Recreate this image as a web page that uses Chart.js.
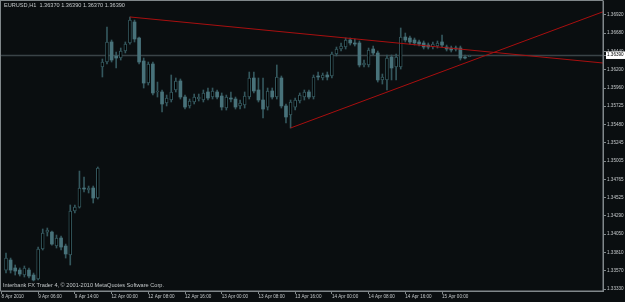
<!DOCTYPE html>
<html>
<head>
<meta charset="utf-8">
<title>EURUSD,H1</title>
<script src="https://cdn.jsdelivr.net/npm/chart.js@4.4.1/dist/chart.umd.min.js"></script>
<style>
  html, body { margin: 0; padding: 0; background: #0a0e10; }
  canvas { display: block; }
</style>
</head>
<body>
<canvas id="chart" width="625" height="302"></canvas>
<script>
// ================================================================
// EURUSD H1 — MT4 style candle chart (Chart.js floating bars)
// ================================================================

// ── Data ─────────────────────────────────────────────────────────
const SYMBOL = 'EURUSD,H1';
const FOOTER = 'Interbank FX Trader 4, \u00A9 2001-2010 MetaQuotes Software Corp.';
const BID = 1.36390;

const OPEN = [
  1.33580, 1.33711, 1.33607, 1.33580, 1.33515, 1.33580, 1.33515, 1.33463, 1.33855, 1.34077,
  1.34077, 1.33894, 1.33999, 1.33894, 1.33777, 1.34352, 1.34404, 1.34653, 1.34627, 1.34653,
  1.34522, 1.36236, 1.36301, 1.36563, 1.36380, 1.36353, 1.36445, 1.36550, 1.36824, 1.36615,
  1.36314, 1.36026, 1.36275, 1.35909, 1.35909, 1.35765, 1.35804, 1.35935, 1.36053, 1.35843,
  1.35726, 1.35778, 1.35817, 1.35804, 1.35909, 1.35843, 1.35909, 1.35856, 1.35699, 1.35830,
  1.35817, 1.35726, 1.35739, 1.35843, 1.36092, 1.35935, 1.35804, 1.35712, 1.35922, 1.35843,
  1.36092, 1.35726, 1.35608, 1.35712, 1.35791, 1.35843, 1.35909, 1.35843, 1.36118, 1.36092,
  1.36131, 1.36118, 1.36406, 1.36471, 1.36497, 1.36589, 1.36550, 1.36550, 1.36262, 1.36262,
  1.36471, 1.36419, 1.36066, 1.36066, 1.36366, 1.36236, 1.36236, 1.36628, 1.36615, 1.36589,
  1.36563, 1.36550, 1.36523, 1.36497, 1.36510, 1.36563, 1.36497, 1.36484, 1.36484, 1.36484,
  1.36366, 1.36370,
];
const HIGH = [
  1.33803, 1.33737, 1.33646, 1.33607, 1.33633, 1.33607, 1.33541, 1.33881, 1.34117, 1.34130,
  1.34091, 1.34038, 1.34025, 1.33920, 1.34431, 1.34431, 1.34875, 1.34797, 1.34679, 1.34679,
  1.34928, 1.36340, 1.36759, 1.36589, 1.36432, 1.36484, 1.36563, 1.36890, 1.36850, 1.36628,
  1.36353, 1.36301, 1.36301, 1.36039, 1.35935, 1.35869, 1.36131, 1.36092, 1.36079, 1.35869,
  1.35817, 1.35882, 1.35882, 1.35935, 1.35961, 1.35961, 1.35935, 1.35896, 1.35869, 1.35909,
  1.35843, 1.35804, 1.35909, 1.36170, 1.36170, 1.36092, 1.36092, 1.35961, 1.35961, 1.36262,
  1.36118, 1.35752, 1.35804, 1.35830, 1.35896, 1.35935, 1.35935, 1.36131, 1.36170, 1.36157,
  1.36170, 1.36432, 1.36497, 1.36550, 1.36615, 1.36615, 1.36602, 1.36576, 1.36327, 1.36484,
  1.36510, 1.36445, 1.36144, 1.36393, 1.36393, 1.36406, 1.36746, 1.36680, 1.36641, 1.36615,
  1.36589, 1.36576, 1.36550, 1.36563, 1.36576, 1.36654, 1.36523, 1.36510, 1.36510, 1.36510,
  1.36393, 1.36390,
];
const LOW = [
  1.33541, 1.33541, 1.33515, 1.33502, 1.33489, 1.33476, 1.33437, 1.33450, 1.33842, 1.34025,
  1.33907, 1.33868, 1.33842, 1.33737, 1.33646, 1.34326, 1.34391, 1.34601, 1.34588, 1.34457,
  1.34509, 1.36105, 1.36275, 1.36301, 1.36223, 1.36327, 1.36419, 1.36536, 1.36563, 1.36275,
  1.35961, 1.36000, 1.35869, 1.35843, 1.35647, 1.35726, 1.35778, 1.35909, 1.35817, 1.35686,
  1.35699, 1.35752, 1.35791, 1.35778, 1.35804, 1.35817, 1.35817, 1.35673, 1.35673, 1.35778,
  1.35686, 1.35686, 1.35699, 1.35817, 1.35896, 1.35778, 1.35569, 1.35673, 1.35817, 1.35817,
  1.35699, 1.35503, 1.35438, 1.35673, 1.35765, 1.35804, 1.35817, 1.35817, 1.36066, 1.36066,
  1.36066, 1.36092, 1.36380, 1.36445, 1.36471, 1.36523, 1.36510, 1.36236, 1.36236, 1.36236,
  1.36393, 1.36039, 1.36013, 1.35935, 1.36066, 1.36066, 1.36209, 1.36563, 1.36536, 1.36523,
  1.36510, 1.36471, 1.36471, 1.36471, 1.36484, 1.36497, 1.36445, 1.36432, 1.36445, 1.36327,
  1.36340, 1.36370,
];
const CLOSE = [
  1.33737, 1.33580, 1.33567, 1.33528, 1.33607, 1.33502, 1.33450, 1.33855, 1.34064, 1.34104,
  1.33920, 1.33999, 1.33881, 1.33790, 1.34352, 1.34404, 1.34653, 1.34640, 1.34653, 1.34522,
  1.34915, 1.36301, 1.36563, 1.36327, 1.36353, 1.36445, 1.36536, 1.36850, 1.36602, 1.36301,
  1.36026, 1.36275, 1.35896, 1.35922, 1.35752, 1.35830, 1.35909, 1.36053, 1.35843, 1.35712,
  1.35791, 1.35843, 1.35843, 1.35896, 1.35830, 1.35922, 1.35843, 1.35712, 1.35843, 1.35817,
  1.35712, 1.35765, 1.35856, 1.36092, 1.35922, 1.35804, 1.35686, 1.35922, 1.35843, 1.36105,
  1.35726, 1.35582, 1.35778, 1.35804, 1.35869, 1.35909, 1.35843, 1.36105, 1.36105, 1.36131,
  1.36105, 1.36406, 1.36471, 1.36510, 1.36589, 1.36550, 1.36536, 1.36262, 1.36288, 1.36458,
  1.36419, 1.36066, 1.36105, 1.36353, 1.36223, 1.36366, 1.36628, 1.36589, 1.36563, 1.36550,
  1.36536, 1.36497, 1.36497, 1.36536, 1.36550, 1.36523, 1.36471, 1.36458, 1.36471, 1.36353,
  1.36353, 1.36390,
];

// time axis: bar index of each label and its text
const TICK_BARS = [-1, 7, 15, 23, 31, 39, 47, 55, 63, 71, 79, 87, 95];
const TICK_TEXT = [
  '8 Apr 2010', '9 Apr 06:00', '9 Apr 14:00', '12 Apr 00:00', '12 Apr 08:00',
  '12 Apr 16:00', '13 Apr 00:00', '13 Apr 08:00', '13 Apr 16:00', '14 Apr 00:00',
  '14 Apr 08:00', '14 Apr 16:00', '15 Apr 00:00',
];

// price axis labels
const PRICE_TICKS = [
  1.36920, 1.36680, 1.36440, 1.36200, 1.35960, 1.35725, 1.35480, 1.35245,
  1.35005, 1.34765, 1.34525, 1.34290, 1.34050, 1.33810, 1.33570, 1.33330,
];

// trend lines (rays): [bar, price] -> [bar, price]
const TREND_A = [[27, 1.36890], [140, 1.36230]];
const TREND_B = [[62, 1.35438], [140, 1.37180]];

// visible window
const X_MIN = -1.09;
const X_MAX = 130.07;
const Y_MIN = 1.33306;
const Y_MAX = 1.37099;

// ── Design tokens ────────────────────────────────────────────────
const BG = '#0a0e10';
const FRAME = '#80878a';
const TEXT = '#c4c8ca';
const WICK = '#34575d';
const BEAR = '#48727a';
const TREND = '#a80f0f';
const BID_LINE = '#3a4347';
const FONT = 'Liberation Sans, Arial, sans-serif';

// ── Datasets ─────────────────────────────────────────────────────
const idx = OPEN.map((_, i) => i);
const wicks = idx.map(i => ({ x: i, y: [LOW[i], HIGH[i]] }));
const bull = idx.filter(i => CLOSE[i] >= OPEN[i]).map(i => ({ x: i, y: [OPEN[i], CLOSE[i]] }));
const bear = idx.filter(i => CLOSE[i] < OPEN[i]).map(i => ({ x: i, y: [OPEN[i], CLOSE[i]] }));
const toPts = seg => seg.map(p => ({ x: p[0], y: p[1] }));

const last = OPEN.length - 1;
const HEADER = SYMBOL + '  ' + [OPEN[last], HIGH[last], LOW[last], CLOSE[last]].map(v => v.toFixed(5)).join(' ');

// ── Plugin: background, bid line, frame, captions ────────────────
const mt4Frame = {
  id: 'mt4Frame',
  beforeDraw(chart) {
    const c = chart.ctx;
    c.save();
    c.fillStyle = BG;
    c.fillRect(0, 0, chart.width, chart.height);
    c.restore();
  },
  beforeDatasetsDraw(chart) {
    const { ctx: c, chartArea: a, scales } = chart;
    const y = Math.round(scales.y.getPixelForValue(BID)) + 0.5;
    c.save();
    c.strokeStyle = BID_LINE;
    c.lineWidth = 1.5;
    c.beginPath();
    c.moveTo(a.left, y);
    c.lineTo(a.right, y);
    c.stroke();
    c.restore();
  },
  afterDraw(chart) {
    const { ctx: c, chartArea: a } = chart;
    c.save();
    c.strokeStyle = FRAME;
    c.lineWidth = 1;
    c.strokeRect(a.left - 0.5, a.top - 0.5, a.right - a.left + 0.5, a.bottom - a.top + 0.5);
    c.fillStyle = TEXT;
    c.textBaseline = 'top';
    c.font = '5.6px ' + FONT;
    c.fillText(HEADER, 4, 3);
    c.fillText(FOOTER, 3, 283);
    c.restore();
  },
};

// ── Chart ────────────────────────────────────────────────────────
Chart.defaults.font.family = FONT;

new Chart(document.getElementById('chart'), {
  type: 'bar',
  data: {
    datasets: [
      { type: 'line', data: toPts(TREND_A), borderColor: TREND, borderWidth: 1, pointRadius: 0, order: 0 },
      { type: 'line', data: toPts(TREND_B), borderColor: TREND, borderWidth: 1, pointRadius: 0, order: 0 },
      {
        data: bull, backgroundColor: '#000000', borderColor: WICK, borderWidth: 1,
        borderSkipped: false, barThickness: 3, minBarLength: 1, grouped: false, order: 1,
      },
      {
        data: bear, backgroundColor: BEAR, borderColor: BEAR, borderWidth: 0,
        borderSkipped: false, barThickness: 3, minBarLength: 1, grouped: false, order: 1,
      },
      { data: wicks, backgroundColor: WICK, barThickness: 1, grouped: false, order: 2 },
    ],
  },
  options: {
    responsive: false,
    animation: false,
    events: [],
    layout: { padding: { left: 1, top: 1, right: 0, bottom: 0 } },
    plugins: { legend: { display: false }, tooltip: { enabled: false } },
    scales: {
      x: {
        type: 'linear',
        min: X_MIN,
        max: X_MAX,
        offset: false,
        afterBuildTicks: s => { s.ticks = TICK_BARS.map(v => ({ value: v })); },
        afterFit: s => { s.height = 11; s.paddingLeft = 0; s.paddingRight = 0; },
        border: { display: true, color: FRAME, width: 1 },
        grid: { drawOnChartArea: false, drawTicks: true, tickLength: 3, color: FRAME, offset: false },
        ticks: {
          align: 'start',
          padding: 0,
          maxRotation: 0,
          autoSkip: false,
          color: TEXT,
          font: { size: 4.6 },
          callback: (v, i) => TICK_TEXT[i],
        },
      },
      y: {
        type: 'linear',
        position: 'right',
        min: Y_MIN,
        max: Y_MAX,
        afterBuildTicks: s => { s.ticks = PRICE_TICKS.concat([BID]).map(v => ({ value: v })); },
        afterFit: s => { s.width = 22; s.paddingTop = 0; s.paddingBottom = 0; },
        border: { display: true, color: FRAME, width: 1 },
        grid: { drawOnChartArea: false, drawTicks: true, tickLength: 3, color: FRAME },
        ticks: {
          padding: 1,
          font: { size: 4.6 },
          color: c => (c.tick && c.tick.value === BID ? '#000000' : TEXT),
          showLabelBackdrop: c => !!(c.tick && c.tick.value === BID),
          backdropColor: '#ffffff',
          backdropPadding: { top: 1, bottom: 1, left: 1, right: 3 },
          callback: v => v.toFixed(5),
        },
      },
    },
  },
  plugins: [mt4Frame],
});
</script>
</body>
</html>
